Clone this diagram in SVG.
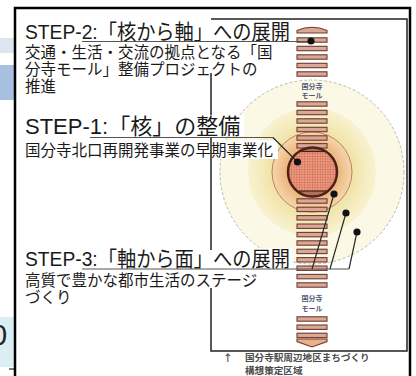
<svg xmlns="http://www.w3.org/2000/svg" width="416" height="376" viewBox="0 0 416 376">
<defs>
<style>
.t{font-family:"Liberation Sans","Noto Sans CJK JP",sans-serif;fill:#1a1a1a}
.ttl{font-size:21px}
.sub{font-size:15.5px}
.ml{font-family:"Noto Sans CJK JP",sans-serif;font-size:7px;font-weight:bold;fill:#4f5a78;text-anchor:middle}
.cap{font-family:"Noto Sans CJK JP",sans-serif;font-size:9.6px;font-weight:bold;fill:#4a4a4a}
.bar{fill:#dba897;stroke:#6e3a2c;stroke-width:1.1}
.ld{stroke:#2a2a2a;stroke-width:1.2;fill:none}
.ul{stroke:#555;stroke-width:1;fill:none}
.dot{fill:#111}
.bg{fill:#fff}
.fr{stroke:#222;stroke-width:1.5;fill:none}
</style>
<radialGradient id="gy" cx="0.5" cy="0.5" r="0.5">
<stop offset="0.6" stop-color="#f0e2a4"/>
<stop offset="1" stop-color="#f8f2d2"/>
</radialGradient>
<radialGradient id="go" cx="0.5" cy="0.5" r="0.5">
<stop offset="0.6" stop-color="#eab27a"/>
<stop offset="1" stop-color="#f6d6ac"/>
</radialGradient>
<pattern id="grid" width="2.6" height="2.6" patternUnits="userSpaceOnUse">
<rect width="2.6" height="2.6" fill="#ee9e84"/>
<path d="M0 0.3H2.6M0.3 0V2.6" stroke="#c9644e" stroke-width="0.6"/>
</pattern>
<clipPath id="cc"><circle cx="312.5" cy="172" r="24.5"/></clipPath>
</defs>

<!-- background page fragments on the left -->
<rect x="0" y="38" width="14" height="15" fill="#dce6f1"/>
<rect x="0" y="65" width="14" height="35" fill="#a8c0df"/>
<rect x="0" y="317" width="14" height="50" fill="#dbeef4"/>
<text x="-9" y="345" style="font-family:'Liberation Sans',sans-serif;font-size:29px;fill:#222">0</text>
<line x1="9" y1="369" x2="15" y2="369" stroke="#222" stroke-width="1.2"/>

<rect x="15" y="8" width="395" height="380" fill="#fff" stroke="#000" stroke-width="2.5"/>

<g id="map">
<circle cx="312" cy="172" r="92" fill="#fcf8e6" stroke="#bdbab0" stroke-width="1" stroke-dasharray="3 2"/>
<circle cx="312" cy="172" r="64" fill="url(#gy)"/>
<circle cx="312" cy="172" r="40" fill="url(#go)" stroke="#b7845c" stroke-width="1"/>
</g>

<g id="mall">
<path d="M297 33 L297 30.5 Q312 24 327 30.5 L327 33 Z" class="bar"/>
<rect class="bar" x="297" y="37.8" width="30" height="4.4"/>
<rect class="bar" x="297" y="46.3" width="30" height="4.4"/>
<rect class="bar" x="297" y="54.8" width="30" height="4.4"/>
<rect class="bar" x="297" y="63.3" width="30" height="4.4"/>
<rect class="bar" x="297" y="71.8" width="30" height="4.4"/>
<text class="ml" x="312" y="88.5">国分寺</text>
<text class="ml" x="312" y="97.5">モール</text>
<rect class="bar" x="297" y="101.8" width="30" height="4.4"/>
<rect class="bar" x="297" y="110.3" width="30" height="4.4"/>
<rect class="bar" x="297" y="118.8" width="30" height="4.4"/>
<rect class="bar" x="297" y="127.3" width="30" height="4.4"/>
<rect class="bar" x="297" y="135.8" width="30" height="4.4"/>
<rect class="bar" x="297" y="143.6" width="30" height="4.4"/>
<rect class="bar" x="297" y="198.8" width="30" height="4.4"/>
<rect class="bar" x="297" y="207.2" width="30" height="4.4"/>
<rect class="bar" x="297" y="215.6" width="30" height="4.4"/>
<rect class="bar" x="297" y="224" width="30" height="4.4"/>
<rect class="bar" x="297" y="232.4" width="30" height="4.4"/>
<rect class="bar" x="297" y="240.8" width="30" height="4.4"/>
<rect class="bar" x="297" y="249.2" width="30" height="4.4"/>
<rect class="bar" x="297" y="257.6" width="30" height="4.4"/>
<rect class="bar" x="297" y="266" width="30" height="4.4"/>
<rect class="bar" x="297" y="274.4" width="30" height="4.4"/>
<rect class="bar" x="297" y="282.8" width="30" height="4.4"/>
<text class="ml" x="312" y="300.5">国分寺</text>
<text class="ml" x="312" y="310.5">モール</text>
<rect class="bar" x="297" y="316.8" width="30" height="4.4"/>
<rect class="bar" x="297" y="325" width="30" height="4.4"/>
<rect class="bar" x="297" y="333.2" width="30" height="4.4"/>
<path d="M297 339 L327 339 L327 341.5 L312 347 L297 341.5 Z" fill="#e9b28a" stroke="#6e3a2c" stroke-width="1.1"/>
</g>

<g id="core">
<circle cx="312.5" cy="172" r="24.5" fill="url(#grid)"/>
<g clip-path="url(#cc)">
<rect x="299" y="146" width="28" height="5.5" fill="#b07060" stroke="#4b2216" stroke-width="1.2"/>
<rect x="300" y="191" width="26" height="6" fill="#b07060" stroke="#4b2216" stroke-width="1.2"/>
</g>
<circle cx="312.5" cy="172" r="24.5" fill="none" stroke="#4b2216" stroke-width="2.5"/>
</g>

<g id="label-bg">
<rect class="bg" x="22" y="22" width="270" height="20"/>
<rect class="bg" x="22" y="45" width="254" height="16"/>
<rect class="bg" x="22" y="62" width="244" height="16"/>
<rect class="bg" x="22" y="115" width="222" height="21"/>
<rect class="bg" x="22" y="140" width="256" height="19"/>
<rect class="bg" x="22" y="248" width="270" height="20"/>
<rect class="bg" x="22" y="271" width="245" height="17"/>
</g>

<g id="frame">
<path class="fr" d="M211 19 H407 V351 H211 V288 M211 250 V138 M211 115 V73"/>
</g>

<g id="step2">
<text class="t ttl" x="25" y="39" textLength="265" lengthAdjust="spacingAndGlyphs">STEP-2:「核から軸」への展開</text>
<text class="t sub" x="25" y="58">交通・生活・交流の拠点となる「国</text>
<text class="t sub" x="25" y="75">分寺モール」整備プロジェクトの</text>
<text class="t sub" x="25" y="92">推進</text>
</g>
<g id="step1">
<text class="t" style="font-size:22px" x="25" y="134">STEP-1:「核」の整備</text>
<text class="t sub" x="25" y="156">国分寺北口再開発事業の早期事業化</text>
</g>
<g id="step3">
<text class="t ttl" x="25" y="266" textLength="265" lengthAdjust="spacingAndGlyphs">STEP-3:「軸から面」への展開</text>
<text class="t sub" x="25" y="286">高質で豊かな都市生活のステージ</text>
<text class="t sub" x="25" y="303">づくり</text>
</g>
<g id="caption">
<text class="cap" x="223" y="361">↑</text>
<text class="cap" x="245" y="361">国分寺駅周辺地区まちづくり</text>
<text class="cap" x="245" y="373.5">構想策定区域</text>
</g>

<g id="connectors">
<path class="ul" d="M82 41.5 H311"/>
<path class="ul" d="M90 137.5 H273"/>
<path class="ld" d="M273 137.5 L297.5 162"/>
<path class="ul" d="M82 269 H349"/>
<path class="ld" d="M312 269 L334 194"/>
<path class="ld" d="M330 269 L346 213"/>
<path class="ld" d="M349 269 L357 232"/>
<circle class="dot" cx="311" cy="41" r="3.6"/>
<circle class="dot" cx="297.5" cy="162" r="3.6"/>
<circle class="dot" cx="334" cy="194" r="3.6"/>
<circle class="dot" cx="346" cy="213" r="3.6"/>
<circle class="dot" cx="357" cy="232" r="3.6"/>
</g>
</svg>
